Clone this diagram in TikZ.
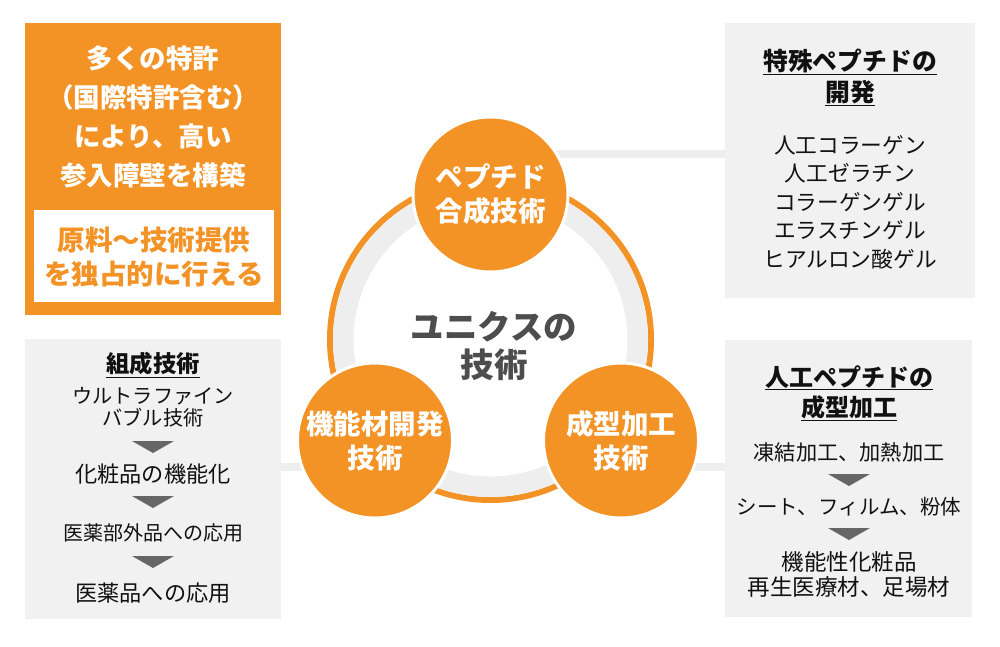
\documentclass[tikz,border=0pt]{standalone}
\usepackage{fontspec}
\setmainfont{Noto Sans CJK JP}
\usetikzlibrary{calc}
\definecolor{uorange}{RGB}{243,146,37}
\definecolor{boxgrey}{RGB}{241,241,241}
\definecolor{bandgrey}{RGB}{238,238,238}
\definecolor{ctext}{RGB}{77,77,77}
\definecolor{trigrey}{RGB}{102,102,102}
\definecolor{txt}{RGB}{17,17,17}
\newcommand{\fs}[2]{\fontsize{#1}{#2}\selectfont}
\begin{document}
\begin{tikzpicture}[x=1pt,y=-1pt,
  panel/.style={fill=boxgrey, draw=none, inner sep=0pt, anchor=north west},
  orangepanel/.style={fill=uorange, draw=none, inner sep=0pt, anchor=north west},
  whitepanel/.style={fill=white, draw=none, inner sep=0pt, anchor=north west},
  techcircle/.style={circle, fill=uorange, draw=white, line width=3pt, minimum size=155pt,
     inner sep=0pt, text=white, align=center, font=\fs{27.5}{34}\bfseries},
  conn/.style={draw=bandgrey, line width=8pt},
  head/.style={align=center, text=txt, font=\fs{23.5}{30}\bfseries},
  item/.style={align=center, text=txt, font=\fs{20.5}{28.5}},
  tri/.style={fill=trigrey, draw=none}
]
\useasboundingbox[fill=white] (0,0) rectangle (1000,646);

% panels
\node[orangepanel, minimum width=256pt, minimum height=292pt] (op) at (25,23) {};
\node[whitepanel, minimum width=240pt, minimum height=92pt] (wp) at (34,210) {};
\node[panel, minimum width=250pt, minimum height=275pt] (tr) at (725,23) {};
\node[panel, minimum width=256pt, minimum height=280pt] (bl) at (25,339) {};
\node[panel, minimum width=247pt, minimum height=277pt] (br) at (725,340) {};

% ring
\node[circle, draw=uorange, line width=6pt, minimum size=321pt, inner sep=0pt] (ring) at (490.5,339.5) {};
\node[circle, draw=bandgrey, line width=20.5pt, minimum size=294.5pt, inner sep=0pt] (band) at (490.5,339.5) {};

% connector coordinates
\coordinate (c1) at (490.5,153.5);
\coordinate (c2) at (375,467);
\coordinate (c3) at (621,467);
\draw[conn] (c1) -- (c1 -| tr.west);
\draw[conn] (c2 -| bl.east) -- (c2);
\draw[conn] (c3) -- (c3 -| br.west);

% technology circles
\node[techcircle] (pep) at (490.5,194.5) {ペプチド\\合成技術};
\node[techcircle] (fun) at (375,440.5) {機能材開発\\技術};
\node[techcircle] (mol) at (621,440.5) {成型加工\\技術};

% centre text
\node[align=center, text=ctext, font=\fs{33.5}{38}\bfseries] (ctr) at (494,346.5) {ユニクスの\\技術};

% orange panel text
\node[align=center, text=white, font=\fs{26.5}{39}\bfseries] (pat) at (153,116.5) {多くの特許\\（国際特許含む）\\により、高い\\参入障壁を構築};
\node[align=center, text=uorange, font=\fs{27.5}{34}\bfseries] (mono) at (154,257) {原料〜技術提供\\を独占的に行える};

% top right panel
\node[head, font=\fs{24.8}{31}\bfseries] (trh) at (850,77.5) {\underline{特殊ペプチドの}\\\underline{開発}};
\node[item, font=\fs{21.7}{28.5}] (tri) at (850,202) {人工コラーゲン\\人工ゼラチン\\コラーゲンゲル\\エラスチンゲル\\ヒアルロン酸ゲル};

% bottom left panel
\node[head, font=\fs{23.3}{30}\bfseries] (blh) at (153,365) {\underline{組成技術}};
\node[item, font=\fs{20.2}{21.5}] (bl1) at (153,407) {ウルトラファイン\\バブル技術};
\node[item, font=\fs{22.2}{28}] (bl2) at (153,474) {化粧品の機能化};
\node[item, font=\fs{20}{28}] (bl3) at (153,533) {医薬部外品への応用};
\node[item, font=\fs{22.2}{28}] (bl4) at (153,593) {医薬品への応用};
\fill[tri] ($(bl1)+(-21,34)$) -- ++(42,0) -- ++(-21,12) -- cycle;
\fill[tri] ($(bl2)+(-21,22)$) -- ++(42,0) -- ++(-21,12) -- cycle;
\fill[tri] ($(bl3)+(-21,23)$) -- ++(42,0) -- ++(-21,12) -- cycle;

% bottom right panel
\node[head, font=\fs{24}{30}\bfseries] (brh) at (849,393) {\underline{人工ペプチドの}\\\underline{成型加工}};
\node[item, font=\fs{21.2}{28}] (br1) at (849,452) {凍結加工、加熱加工};
\node[item, font=\fs{20.5}{28}] (br2) at (849,507) {シート、フィルム、粉体};
\node[item, font=\fs{22.5}{25.5}] (br3) at (849,574.5) {機能性化粧品\\再生医療材、足場材};
\fill[tri] ($(br1)+(-21,22)$) -- ++(42,0) -- ++(-21,12) -- cycle;
\fill[tri] ($(br2)+(-21,21)$) -- ++(42,0) -- ++(-21,12) -- cycle;
\end{tikzpicture}
\end{document}
